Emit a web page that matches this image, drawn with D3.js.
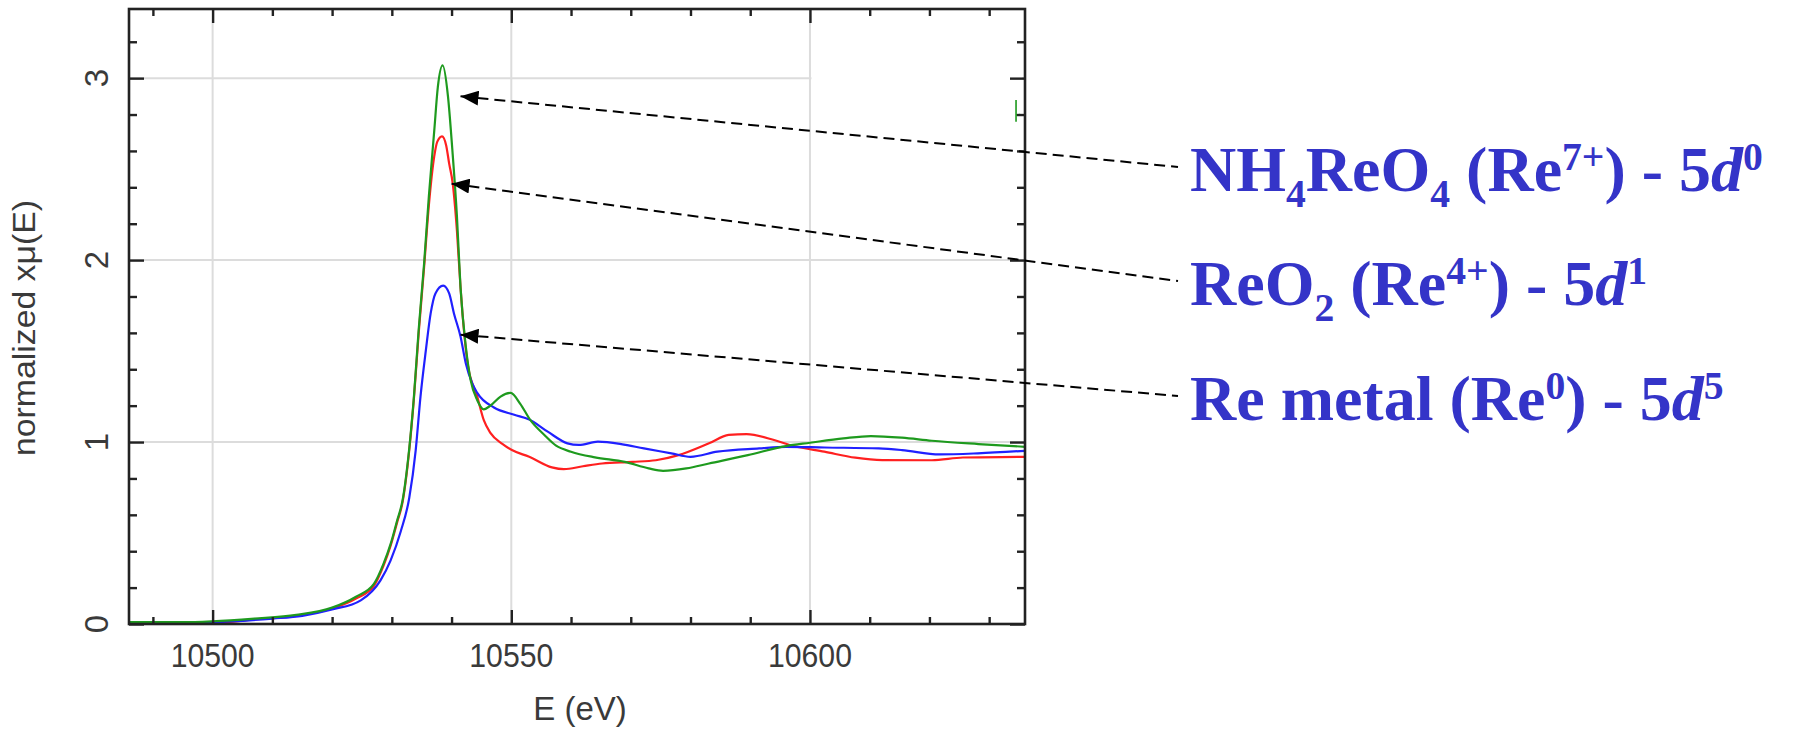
<!DOCTYPE html>
<html><head><meta charset="utf-8">
<script src="https://cdn.jsdelivr.net/npm/d3@7"></script>
<style>body{margin:0;background:#fff} svg{display:block}</style>
</head><body><svg id="c" width="1812" height="730"></svg>
<script>
// ---------- data ----------
const xTickValues = [10500, 10550, 10600];
const xTickLabels = ["10500", "10550", "10600"];
const yTickValues = [0, 1, 2, 3];
const yTickLabels = ["0", "1", "2", "3"];
const xTitle = "E (eV)";
const yTitle = "normalized xμ(E)";

// NH4ReO4 (green)
const nh4reo4E  = [10486,10495,10500,10507,10514,10520,10524,10527,10528.6,10529.8,10530.9,10531.8,10532.9,10533.7,10534.5,10535.4,10536.2,10537.1,10537.7,10538.5,10539.4,10540.1,10540.9,10541.5,10542.4,10543.2,10544.3,10545.4,10546.5,10548.2,10549.9,10551.5,10553.2,10555.5,10557.5,10560,10564,10569,10573,10575.4,10579.3,10583.1,10589.6,10596,10600,10605.6,10610.2,10615.4,10620.4,10628.2,10636];
const nh4reo4Mu = [0.01,0.01,0.015,0.03,0.05,0.09,0.15,0.22,0.33,0.44,0.57,0.68,0.96,1.25,1.62,1.98,2.35,2.71,2.95,3.07,2.90,2.62,2.24,1.85,1.52,1.34,1.23,1.18,1.20,1.25,1.27,1.21,1.12,1.04,0.98,0.947,0.916,0.891,0.855,0.842,0.855,0.882,0.928,0.978,0.996,1.02,1.033,1.024,1.007,0.989,0.974];

// ReO2 (red)
const reo2E  = [10486,10500,10507,10514,10520,10524,10527,10528.6,10529.8,10530.9,10531.8,10532.9,10533.7,10534.5,10535.4,10536.2,10537.1,10537.6,10538.4,10539.1,10539.6,10540.2,10540.9,10541.5,10542.7,10544.3,10545.4,10546.5,10548.5,10550.1,10553,10556.8,10558.8,10562,10565.2,10570.3,10574.2,10578,10583.1,10586.4,10589.4,10594,10597.3,10602.4,10607.6,10612.1,10620.4,10625.6,10636];
const reo2Mu = [0.0,0.005,0.025,0.045,0.085,0.14,0.21,0.32,0.43,0.56,0.67,0.95,1.24,1.60,1.96,2.30,2.57,2.65,2.68,2.63,2.53,2.42,2.16,1.85,1.43,1.25,1.12,1.05,0.99,0.956,0.919,0.861,0.851,0.867,0.882,0.891,0.90,0.928,0.993,1.039,1.044,1.011,0.978,0.947,0.914,0.901,0.90,0.915,0.919];

// Re metal (blue)
const reMetalE  = [10486,10500,10510,10515,10520,10524.8,10528.1,10529.8,10531.5,10532.9,10534.0,10534.8,10535.7,10536.5,10537.3,10538.6,10539.6,10540.4,10541.5,10542.4,10543.5,10544.3,10547.1,10550.5,10553,10556.1,10559.4,10561.3,10564.5,10568.4,10572.2,10576.8,10580,10584.5,10591.5,10596,10602.4,10611.5,10615.4,10621.7,10628.1,10636];
const reMetalMu = [0.005,0.01,0.03,0.045,0.08,0.13,0.24,0.35,0.51,0.69,0.956,1.25,1.505,1.707,1.817,1.86,1.817,1.707,1.58,1.43,1.32,1.27,1.19,1.15,1.124,1.057,0.993,0.984,1.002,0.989,0.965,0.938,0.919,0.947,0.965,0.974,0.97,0.965,0.956,0.932,0.938,0.952];

const seriesNames  = ["ReO2", "Re metal", "NH4ReO4"];
const seriesColors = ["#ff2020", "#2020ff", "#1e9a1e"];

// annotation labels (rich text parts) and where each arrow points (data coords)
const labelParts = [
  [{t:"NH"},{t:"4",sub:1},{t:"ReO"},{t:"4",sub:1},{t:" (Re"},{t:"7+",sup:1},{t:") - 5"},{t:"d",it:1},{t:"0",sup:1}],
  [{t:"ReO"},{t:"2",sub:1},{t:" (Re"},{t:"4+",sup:1},{t:") - 5"},{t:"d",it:1},{t:"1",sup:1}],
  [{t:"Re metal (Re"},{t:"0",sup:1},{t:") - 5"},{t:"d",it:1},{t:"5",sup:1}]
];
const arrowTipE  = [10541.5, 10540.0, 10541.5];
const arrowTipMu = [2.90, 2.42, 1.59];

// ---------- layout ----------
const W = 1812, H = 730;
const L = 129, R = 1025, T = 9, B = 624;
const svg = d3.select("#c");
svg.append("rect").attr("width", W).attr("height", H).attr("fill", "#fff");

const x = d3.scaleLinear().domain([10486, 10636]).range([L, R]);
const y = d3.scaleLinear().domain([0, 3.38]).range([B, T]);

// gridlines
const grid = svg.append("g").attr("stroke", "#dcdcdc").attr("stroke-width", 2);
xTickValues.forEach(v => grid.append("line").attr("x1", x(v)).attr("x2", x(v)).attr("y1", T).attr("y2", B));
yTickValues.filter(v => v > 0).forEach(v => grid.append("line").attr("x1", L).attr("x2", R).attr("y1", y(v)).attr("y2", y(v)));
// white patch (legend remnant) at the top right of the plot
svg.append("rect").attr("x", x(10600) + 1.5).attr("y", T + 2)
  .attr("width", R - 3 - x(10600) - 1.5).attr("height", y(2.765) - T - 2).attr("fill", "#fff");

// clip
svg.append("clipPath").attr("id", "clip").append("rect")
  .attr("x", L).attr("y", T).attr("width", R - L).attr("height", B - T);

const allE  = [reo2E, reMetalE, nh4reo4E];
const allMu = [reo2Mu, reMetalMu, nh4reo4Mu];
const line = d3.line().x(d => x(d[0])).y(d => y(d[1])).curve(d3.curveMonotoneX);
const plot = svg.append("g").attr("clip-path", "url(#clip)");
seriesNames.forEach((n, i) => {
  const pts = allE[i].map((e, j) => [e, allMu[i][j]]);
  plot.append("path").datum(pts).attr("d", line).attr("fill", "none")
    .attr("stroke", seriesColors[i]).attr("stroke-width", 2.2).attr("stroke-linejoin", "round");
});
// small green remnant mark near right axis
plot.append("path")
  .attr("d", `M${x(10634.5)},${y(2.88)}L${x(10634.5)},${y(2.76)}M${x(10634.5)},${y(2.797)}L${x(10635.2)},${y(2.80)}`)
  .attr("stroke", "#1e9a1e").attr("stroke-width", 1.6).attr("fill", "none");

// axes (inward ticks on all four sides)
const axisCol = "#222";
const xMinor = d3.range(10490, 10636, 10);
const yMinor = d3.range(0, 3.39, 0.2);
function mk(sel, scale, orient, vals, len) {
  const ax = (orient === "bottom" ? d3.axisBottom : orient === "top" ? d3.axisTop : orient === "left" ? d3.axisLeft : d3.axisRight)(scale)
    .tickValues(vals).tickSize(-len).tickFormat("");
  sel.call(ax);
  sel.select(".domain").remove();
  sel.selectAll("line").attr("stroke", axisCol).attr("stroke-width", 2.4);
}
const isMajorX = v => xTickValues.includes(v);
const isMajorY = v => Math.abs(v - Math.round(v)) < 1e-6;
mk(svg.append("g").attr("transform", `translate(0,${B})`), x, "bottom", xMinor.filter(v => !isMajorX(v)), 7);
mk(svg.append("g").attr("transform", `translate(0,${B})`), x, "bottom", xTickValues, 14);
mk(svg.append("g").attr("transform", `translate(0,${T})`), x, "top", xMinor.filter(v => !isMajorX(v)), 7);
mk(svg.append("g").attr("transform", `translate(0,${T})`), x, "top", xTickValues, 14);
mk(svg.append("g").attr("transform", `translate(${L},0)`), y, "left", yMinor.filter(v => !isMajorY(v)), 8);
mk(svg.append("g").attr("transform", `translate(${L},0)`), y, "left", yTickValues, 15);
mk(svg.append("g").attr("transform", `translate(${R},0)`), y, "right", yMinor.filter(v => !isMajorY(v)), 8);
mk(svg.append("g").attr("transform", `translate(${R},0)`), y, "right", yTickValues, 15);
svg.append("rect").attr("x", L).attr("y", T).attr("width", R - L).attr("height", B - T)
  .attr("fill", "none").attr("stroke", axisCol).attr("stroke-width", 2.6);

// tick labels and titles
const txtCol = "#3a3a3a";
const font = "'Liberation Sans', Arial, sans-serif";
xTickValues.forEach((v, i) => svg.append("text").attr("x", x(v)).attr("y", 667)
  .attr("text-anchor", "middle").attr("font-family", font).attr("font-size", 34).attr("fill", txtCol)
  .attr("textLength", 84).attr("lengthAdjust", "spacingAndGlyphs").text(xTickLabels[i]));
yTickValues.forEach((v, i) => svg.append("text").attr("transform", `translate(108,${y(v)}) rotate(-90)`)
  .attr("text-anchor", "middle").attr("font-family", font).attr("font-size", 33).attr("fill", txtCol).text(yTickLabels[i]));
svg.append("text").attr("x", (L + R) / 2 + 3).attr("y", 720).attr("text-anchor", "middle")
  .attr("font-family", font).attr("font-size", 33).attr("fill", txtCol).text(xTitle);
svg.append("text").attr("transform", `translate(35,328) rotate(-90)`).attr("text-anchor", "middle")
  .attr("font-family", font).attr("font-size", 32).attr("fill", txtCol)
  .attr("textLength", 256).attr("lengthAdjust", "spacingAndGlyphs").text(yTitle);

// annotations
const labelX = 1190, labelBase = [191, 305, 420], fs = 64;
const defs = svg.append("defs");
defs.append("marker").attr("id", "ah").attr("viewBox", "0 0 18 15").attr("refX", 0).attr("refY", 7.5)
  .attr("markerWidth", 18).attr("markerHeight", 15).attr("markerUnits", "userSpaceOnUse").attr("orient", "auto")
  .append("path").attr("d", "M0,7.5L18,0L18,15Z").attr("fill", "#000");

labelParts.forEach((parts, i) => {
  const tailX = labelX - 12, tailY = labelBase[i] - 24;
  svg.append("line").attr("x1", x(arrowTipE[i])).attr("y1", y(arrowTipMu[i])).attr("x2", tailX).attr("y2", tailY)
    .attr("stroke", "#000").attr("stroke-width", 2).attr("stroke-dasharray", "11,6")
    .attr("marker-start", "url(#ah)");
  const t = svg.append("text").attr("x", labelX).attr("y", labelBase[i])
    .attr("font-family", "'Liberation Serif', 'Times New Roman', serif").attr("font-weight", "bold")
    .attr("font-size", fs).attr("fill", "#3434c8");
  let shift = 0;
  parts.forEach(p => {
    const target = p.sub ? 16 : p.sup ? -21 : 0;
    const ts = t.append("tspan").attr("dy", target - shift).text(p.t);
    if (p.sub || p.sup) ts.attr("font-size", fs * 0.62);
    if (p.it) ts.attr("font-style", "italic");
    shift = target;
  });
});
</script></body></html>
